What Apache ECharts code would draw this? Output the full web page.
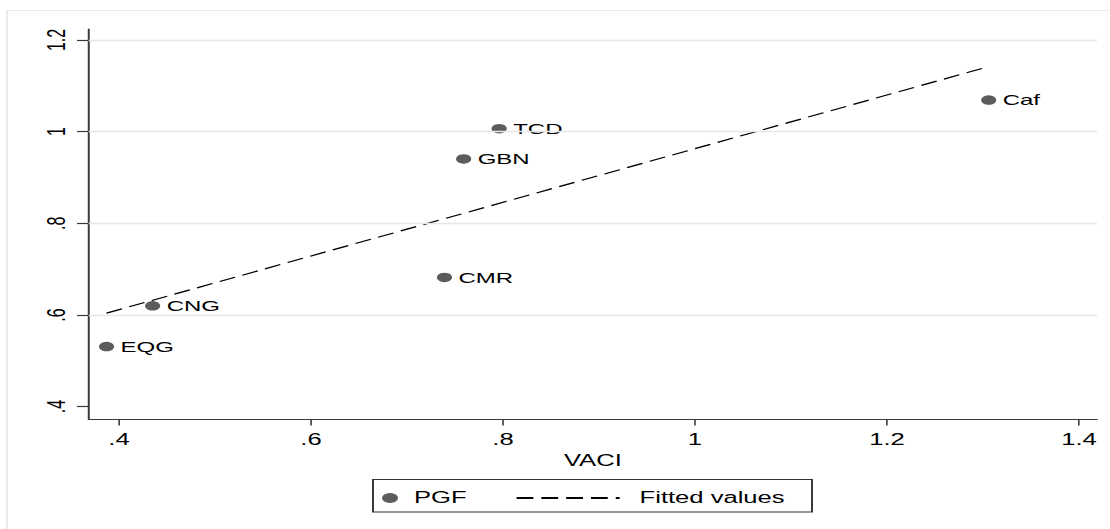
<!DOCTYPE html>
<html><head><meta charset="utf-8">
<script src="https://cdn.jsdelivr.net/npm/echarts@6/dist/echarts.min.js"></script>
<style>
html,body{margin:0;padding:0;background:#fff;overflow:hidden;}
#wrap{width:1110px;height:529px;overflow:hidden;position:relative;background:#fff;}
#chart{width:694px;height:529px;transform:scaleX(1.599424);transform-origin:0 0;}
</style></head><body>
<div id="wrap"><div id="chart"></div></div>
<script>
// ---- data ----
const countries = ['EQG', 'CNG', 'CMR', 'GBN', 'TCD', 'Caf'];
const vaci = [0.387, 0.435, 0.739, 0.759, 0.796, 1.306];
const pgf = [0.531, 0.620, 0.682, 0.9405, 1.0065, 1.069];
const fitVaci = [0.387, 1.306];
const fitPgf = [0.604, 1.142];
const xTicks = [0.4, 0.6, 0.8, 1.0, 1.2, 1.4];
const xTickLabels = ['.4', '.6', '.8', '1', '1.2', '1.4'];
const yTicks = [0.4, 0.6, 0.8, 1.0, 1.2];
const yTickLabels = ['.4', '.6', '.8', '1', '1.2'];
const yGridValues = [0.6, 0.8, 1.0, 1.2];
const seriesNames = ['PGF', 'Fitted values'];
const xTitle = 'VACI';

// ---- chart ----
const S = 1110 / 694; // horizontal stretch of the reference
const FONT = "'Liberation Sans', Arial, Helvetica, sans-serif";
const AXIS_COLOR = '#3a3a3a';

function labelFor(ticks, labels) {
  return function (v) {
    for (let i = 0; i < ticks.length; i++) {
      if (Math.abs(ticks[i] - v) < 1e-6) return labels[i];
    }
    return '';
  };
}

const chart = echarts.init(document.getElementById('chart'), null, { renderer: 'svg' });
chart.setOption({
  animation: false,
  backgroundColor: '#fff',
  textStyle: { fontFamily: FONT },
  grid: { left: 88.7 / S, right: 694 - 1097 / S, top: 29, bottom: 529 - 419, containLabel: false },
  xAxis: {
    type: 'value',
    min: 0.3684,
    max: 1.4188,
    name: xTitle,
    nameLocation: 'middle',
    nameGap: 32,
    nameTextStyle: { fontSize: 16, color: '#000', fontFamily: FONT },
    axisLine: { show: true, onZero: false, lineStyle: { color: AXIS_COLOR, width: 1.2 } },
    axisTick: { show: true, length: 6.5, customValues: xTicks, lineStyle: { color: AXIS_COLOR, width: 1 } },
    axisLabel: { customValues: xTicks, formatter: labelFor(xTicks, xTickLabels), fontSize: 16, color: '#000', margin: 13, fontFamily: FONT },
    splitLine: { show: false }
  },
  yAxis: {
    type: 'value',
    min: 0.373,
    max: 1.224,
    axisLine: { show: true, onZero: false, lineStyle: { color: AXIS_COLOR, width: 1.25 } },
    axisTick: { show: true, length: 7.3, customValues: yTicks, lineStyle: { color: AXIS_COLOR, width: 1.2 } },
    axisLabel: { customValues: yTicks, formatter: labelFor(yTicks, yTickLabels), rotate: 90, fontSize: 16, color: '#000', margin: 12, fontFamily: FONT },
    splitLine: { show: false }
  },
  legend: [
    {
      data: [seriesNames[0]],
      left: 390 / S - 5,
      top: 490,
      padding: 0,
      itemWidth: 10,
      itemHeight: 10,
      textStyle: { fontSize: 16, color: '#000', fontFamily: FONT, padding: [0, 0, 0, 5] }
    },
    {
      data: [seriesNames[1]],
      left: 515 / S,
      top: 490,
      padding: 0,
      itemWidth: (618 - 515) / S,
      itemHeight: 10,
      itemStyle: { color: 'rgba(0,0,0,0)', borderColor: 'rgba(0,0,0,0)', borderWidth: 0, opacity: 0 },
      textStyle: { fontSize: 16, color: '#000', fontFamily: FONT, padding: [0, 0, 0, 7.5] }
    }
  ],
  graphic: [
    {
      type: 'polyline',
      silent: true,
      shape: { points: [[7 / S, 540], [7 / S, 10.5], [720, 10.5]] },
      style: { fill: null, stroke: '#ebebeb', lineWidth: 1.2 }
    },
    {
      type: 'rect',
      silent: true,
      shape: { x: 373 / S, y: 479.5, width: (812 - 373) / S, height: 32.5 },
      style: { fill: null, stroke: '#333', lineWidth: 1.2 }
    }
  ],
  series: [
    {
      name: 'grid',
      type: 'line',
      data: [],
      silent: true,
      z: 1,
      markLine: {
        silent: true,
        symbol: ['none', 'none'],
        label: { show: false },
        lineStyle: { color: '#e6e6e6', width: 1.3, type: 'solid' },
        data: yGridValues.map(v => ({ yAxis: v }))
      }
    },
    {
      name: seriesNames[1],
      type: 'line',
      z: 2,
      symbol: 'none',
      data: fitVaci.map((x, i) => [x, fitPgf[i]]),
      lineStyle: { color: '#000', width: 1.2, type: [10.5, 5] },
      itemStyle: { color: '#000' }
    },
    {
      name: seriesNames[0],
      type: 'scatter',
      z: 3,
      symbol: 'circle',
      symbolSize: 9.5,
      itemStyle: { color: '#5c5c5c', opacity: 1 },
      label: { show: true, position: 'right', distance: 4, formatter: '{b}', fontSize: 15, color: '#000', fontFamily: FONT },
      data: countries.map((c, i) => ({ name: c, value: [vaci[i], pgf[i]] }))
    }
  ]
});
</script>
</body></html>
